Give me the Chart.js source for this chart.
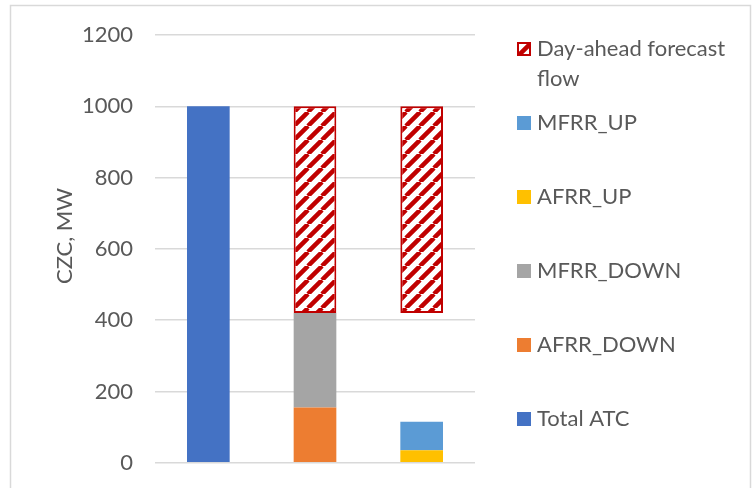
<!DOCTYPE html>
<html>
<head>
<meta charset="utf-8">
<script src="https://cdn.jsdelivr.net/npm/chart.js@4.4.1/dist/chart.umd.min.js"></script>
<style>
  html, body { margin: 0; padding: 0; background: #fff; }
  #wrap { width: 753px; height: 488px; }
</style>
</head>
<body>
<div id="wrap"><canvas id="czcChart" width="753" height="488"></canvas></div>
<script>
// Chart data
const categories = ['Total ATC', 'Downward reserves', 'Upward reserves'];
const totalAtc = [1000, null, null];
const afrrDown = [null, 155, null];
const mfrrDown = [null, 265, null];
const afrrUp = [null, null, 35];
const mfrrUp = [null, null, 80];
const unusedGap = [null, null, 305];   // invisible spacer under the forecast flow
const dayAheadFlow = [null, 580, 580];
const yTicks = [0, 200, 400, 600, 800, 1000, 1200];

const TEXT = '#595959';
const FONT = "Lato, 'Open Sans', sans-serif";
const FONT_SIZE = 22;

Chart.defaults.color = TEXT;
Chart.defaults.font.family = FONT;

// red upward-diagonal hatch, like Excel's pattern fill
function makeHatch() {
    const s = 14;
    const c = document.createElement('canvas');
    c.width = s; c.height = s;
    const g = c.getContext('2d');
    g.fillStyle = '#fff';
    g.fillRect(0, 0, s, s);
    g.strokeStyle = '#C00000';
    g.lineWidth = 4.5;
    g.beginPath();
    for (let k = -1; k <= 1; k++) {
        g.moveTo(k * s, s);
        g.lineTo(k * s + s, 0);
    }
    g.stroke();
    return g.createPattern(c, 'repeat');
}
const hatch = makeHatch();

// frame around the whole chart
const framePlugin = {
    id: 'frame',
    beforeDraw(chart) {
        const ctx = chart.ctx;
        ctx.save();
        ctx.fillStyle = '#fff';
        ctx.fillRect(0, 0, chart.width, chart.height);
        ctx.strokeStyle = '#D9D9D9';
        ctx.lineWidth = 1.5;
        ctx.strokeRect(10.5, 5.5, 740, 520);
        ctx.restore();
    }
};

// y title + legend on the right, Excel style
const sideLegend = {
    id: 'sideLegend',
    afterDraw(chart) {
        const ctx = chart.ctx;
        ctx.save();
        ctx.font = FONT_SIZE + 'px ' + FONT;
        ctx.fillStyle = TEXT;
        ctx.textBaseline = 'middle';

        ctx.save();
        ctx.translate(65, 236);
        ctx.rotate(-Math.PI / 2);
        ctx.textAlign = 'center';
        ctx.fillText('CZC, MW', 0, 0);
        ctx.restore();

        const items = chart.data.datasets.filter(d => !d.noLegend).reverse();
        const textX = 537, maxW = 205;
        let y = 49;
        items.forEach(ds => {
            // simple word wrap
            const words = ds.label.split(' ');
            const lines = [];
            let cur = '';
            words.forEach(w => {
                const test = cur ? cur + ' ' + w : w;
                if (ctx.measureText(test).width > maxW && cur) {
                    lines.push(cur);
                    cur = w;
                } else cur = test;
            });
            lines.push(cur);

            ctx.fillStyle = ds.backgroundColor;
            ctx.fillRect(517, y - 7, 14, 14);
            if (ds.borderWidth) {
                ctx.strokeStyle = ds.borderColor;
                ctx.lineWidth = 2;
                ctx.strokeRect(518, y - 6, 12, 12);
            }
            ctx.fillStyle = TEXT;
            lines.forEach((t, i) => ctx.fillText(t, textX, y + i * 30));
            y += 74;
        });
        ctx.restore();
    }
};

new Chart(document.getElementById('czcChart'), {
    type: 'bar',
    data: {
        labels: categories,
        datasets: [
            { label: 'Total ATC', data: totalAtc, backgroundColor: '#4472C4' },
            { label: 'AFRR_DOWN', data: afrrDown, backgroundColor: '#ED7D31' },
            { label: 'MFRR_DOWN', data: mfrrDown, backgroundColor: '#A5A5A5' },
            { label: 'AFRR_UP', data: afrrUp, backgroundColor: '#FFC000' },
            { label: 'MFRR_UP', data: mfrrUp, backgroundColor: '#5B9BD5' },
            { label: 'gap', data: unusedGap, backgroundColor: 'rgba(0,0,0,0)', noLegend: true },
            {
                label: 'Day-ahead forecast flow',
                data: dayAheadFlow,
                backgroundColor: hatch,
                borderColor: '#C00000',
                borderWidth: 2,
                borderSkipped: false
            }
        ]
    },
    options: {
        responsive: false,
        animation: false,
        devicePixelRatio: 1,
        barPercentage: 0.4,
        categoryPercentage: 1.0,
        layout: { padding: { left: 0, right: 278, top: 35, bottom: 25 } },
        plugins: {
            legend: { display: false },
            tooltip: { enabled: false }
        },
        scales: {
            x: { display: false, stacked: true },
            y: {
                stacked: true,
                min: 0,
                max: 1200,
                afterBuildTicks: s => { s.ticks = yTicks.map(v => ({ value: v })); },
                afterFit: s => { s.width = 155; },
                ticks: {
                    font: { size: FONT_SIZE },
                    color: TEXT,
                    padding: 12,
                    callback: v => String(v)
                },
                grid: {
                    color: '#D9D9D9',
                    lineWidth: 1.5,
                    drawTicks: true,
                    tickLength: 10,
                    tickColor: 'rgba(0,0,0,0)'
                },
                border: { display: false }
            }
        }
    },
    plugins: [framePlugin, sideLegend]
});
</script>
</body>
</html>
